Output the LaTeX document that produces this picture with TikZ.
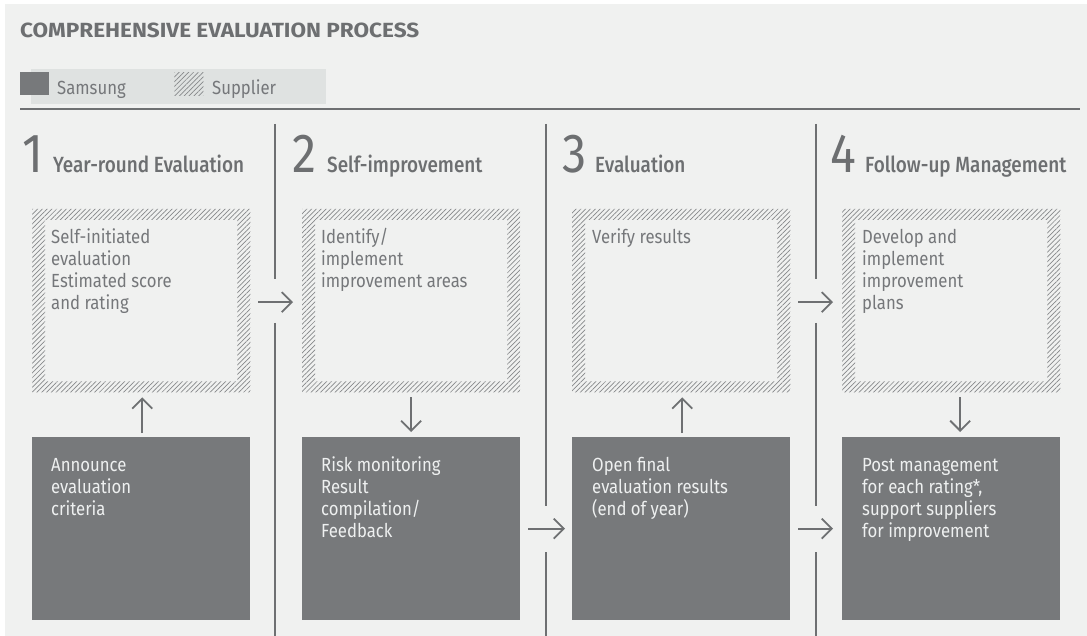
\documentclass[tikz,border=0pt]{standalone}
\usepackage{fontspec}
\setmainfont{Fira Sans}[FakeStretch=0.88]
\newfontfamily\numfont{Fira Sans}[FakeStretch=0.88]
\newfontfamily\titlefont{Fira Sans}[FakeStretch=1.1]
\IfFontExistsTF{Fira Sans Medium}{\newfontfamily\headfont{Fira Sans Medium}[FakeStretch=0.86]}{\newfontfamily\headfont{Fira Sans}[FakeStretch=0.86]}
\usetikzlibrary{arrows.meta,patterns.meta}
\definecolor{bg}{HTML}{F0F1F0}
\definecolor{legbar}{HTML}{DFE2E1}
\definecolor{darkbox}{HTML}{77797B}
\definecolor{linegray}{HTML}{6E7072}
\definecolor{hatch}{HTML}{86888A}
\definecolor{txtgray}{HTML}{75777A}
\definecolor{headgray}{HTML}{6D6F71}
\definecolor{lighttxt}{HTML}{EEF0F0}
\tikzset{
  hbox/.style={rectangle, inner sep=0pt, minimum width=218pt, minimum height=183pt, anchor=north west},
  dbox/.style={rectangle, inner sep=0pt, fill=darkbox, minimum width=218pt, minimum height=183pt, anchor=north west},
  hatchfill/.style={pattern={Lines[angle=45,distance=3.4pt,line width=0.7pt]}, pattern color=hatch},
  bodytxt/.style={anchor=north west, inner sep=0pt, align=left, text=txtgray, font=\fontsize{19pt}{22pt}\selectfont},
  darktxt/.style={bodytxt, text=lighttxt},
  numtxt/.style={anchor=base west, inner sep=0pt, text=headgray, font=\numfont\fontsize{55pt}{60pt}\selectfont},
  headtxt/.style={anchor=base west, inner sep=0pt, text=headgray, font=\headfont\fontsize{22pt}{26pt}\selectfont},
  legtxt/.style={anchor=base west, inner sep=0pt, text=txtgray, font=\fontsize{19pt}{22pt}\selectfont},
  divider/.style={draw=linegray, line width=1.2pt},
  arr/.style={draw=linegray, line width=1.8pt, -{Straight Barb[length=10pt,width=20pt]}}
}
\newcommand{\fr}{\rule{0pt}{16pt}}
\begin{document}
\begin{tikzpicture}[x=1pt,y=-1pt]
\useasboundingbox (0,0) rectangle (1087,636);
\fill[bg] (5,4) rectangle (1087,636);
% title
\node[anchor=base west, inner sep=0pt, text=headgray, font=\titlefont\bfseries\fontsize{20.5pt}{22pt}\selectfont] (title) at (20,38) {COMPREHENSIVE EVALUATION PROCESS};
% legend
\fill[legbar] (31,69) rectangle (326,104);
\node[rectangle, inner sep=0pt, fill=darkbox, minimum width=29pt, minimum height=23pt, anchor=north west] (legS) at (20,72) {};
\node[legtxt] (legSt) at (57,95) {Samsung};
\node[rectangle, inner sep=0pt, hatchfill, minimum width=29pt, minimum height=23pt, anchor=north west] (legH) at (174,72) {};
\node[legtxt] (legHt) at (212,95) {Supplier};
\draw[draw=linegray, line width=2pt] (20,109) -- (1080,109);
% dividers
\draw[divider] (275,124) -- (275,279) (275,323) -- (275,636);
\draw[divider] (546,124) -- (546,506) (546,552) -- (546,636);
\draw[divider] (816,124) -- (816,279) (816,323) -- (816,506) (816,552) -- (816,636);
% headings
\node[numtxt] (n1) at (22,173) {1};
\node[headtxt] (h1) at (53,173) {Year-round Evaluation};
\node[numtxt] (n2) at (292,173) {2};
\node[headtxt] (h2) at (327,173) {Self-improvement};
\node[numtxt] (n3) at (562,173) {3};
\node[headtxt] (h3) at (595,173) {Evaluation};
\node[numtxt] (n4) at (830,173) {4};
\node[headtxt] (h4) at (865,173) {Follow-up Management};
% hatched boxes
\foreach \i/\x in {1/32,2/302,3/572,4/842}{
  \node[hbox] (s\i) at (\x,209) {};
  \fill[hatchfill, even odd rule] (s\i.south west) rectangle (s\i.north east)
    ([shift={(13pt,-11pt)}]s\i.north west) rectangle ([shift={(-13pt,11pt)}]s\i.south east);
  \node[dbox] (d\i) at (\x,437) {};
}
% texts
\node[bodytxt] (s1t) at ([shift={(19pt,-18pt)}]s1.north west) {\fr Self-initiated\\evaluation\\Estimated score\\and rating};
\node[bodytxt] (s2t) at ([shift={(19pt,-18pt)}]s2.north west) {\fr Identify/\\implement\\improvement areas};
\node[bodytxt] (s3t) at ([shift={(20pt,-18pt)}]s3.north west) {\fr Verify results};
\node[bodytxt] (s4t) at ([shift={(20pt,-18pt)}]s4.north west) {\fr Develop and\\implement\\improvement\\plans};
\node[darktxt] (d1t) at ([shift={(19pt,-18pt)}]d1.north west) {\fr Announce\\evaluation\\criteria};
\node[darktxt] (d2t) at ([shift={(19pt,-18pt)}]d2.north west) {\fr Risk monitoring\\Result\\compilation/\\Feedback};
\node[darktxt] (d3t) at ([shift={(20pt,-18pt)}]d3.north west) {\fr Open final\\evaluation results\\(end of year)};
\node[darktxt] (d4t) at ([shift={(20pt,-18pt)}]d4.north west) {\fr Post management\\for each rating*,\\support suppliers\\for improvement};
% arrows
\draw[arr, shorten <=8pt, shorten >=9pt] ([yshift=-1.5pt]s1.east) -- ([yshift=-1.5pt]s2.west);
\draw[arr, shorten <=8pt, shorten >=9pt] ([yshift=-1.5pt]s3.east) -- ([yshift=-1.5pt]s4.west);
\draw[arr, shorten <=8pt, shorten >=7pt] (d2.east) -- (d3.west);
\draw[arr, shorten <=8pt, shorten >=9pt] (d3.east) -- (d4.west);
\draw[arr, shorten <=4pt, shorten >=5pt] ([xshift=1pt]d1.north) -- ([xshift=1pt]s1.south);
\draw[arr, shorten <=5pt, shorten >=5pt] (s2.south) -- (d2.north);
\draw[arr, shorten <=4pt, shorten >=5pt] ([xshift=1pt]d3.north) -- ([xshift=1pt]s3.south);
\draw[arr, shorten <=5pt, shorten >=5pt] ([xshift=9pt]s4.south) -- ([xshift=9pt]d4.north);
\end{tikzpicture}
\end{document}
